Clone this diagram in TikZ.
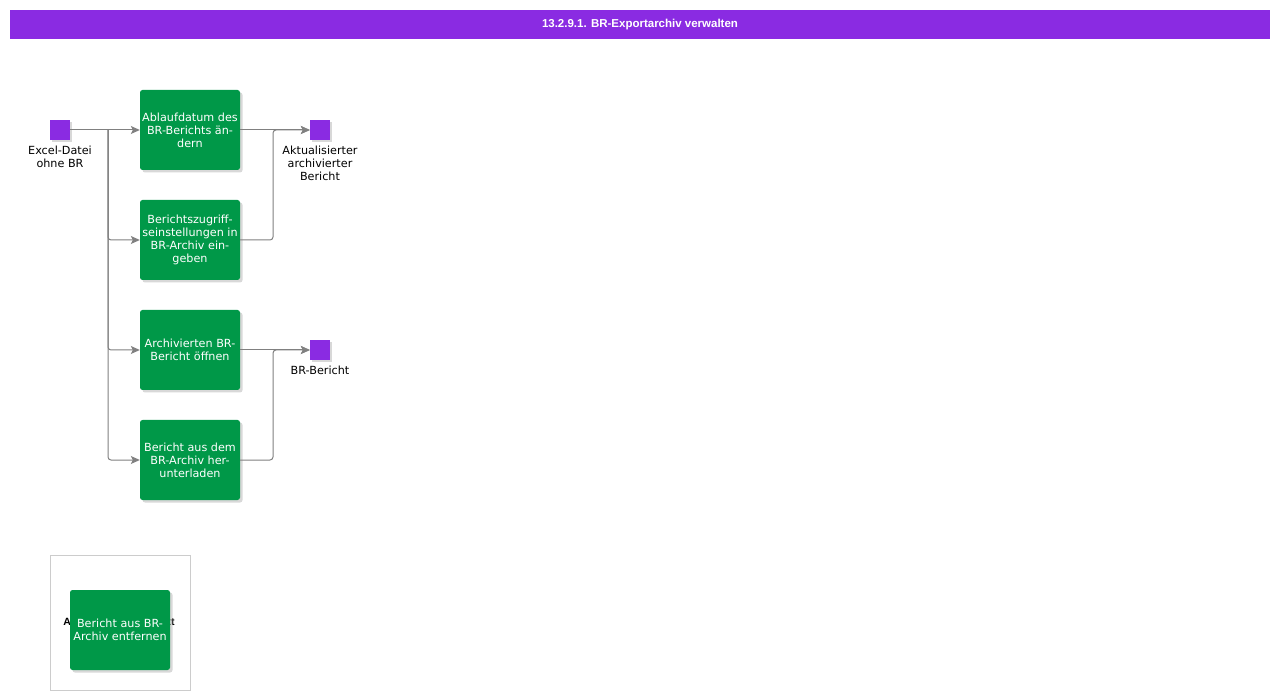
\documentclass[tikz,border=0pt]{standalone}
\usepackage{fontspec}
\setmainfont{DejaVu Sans}
\newfontfamily\headfont{Liberation Sans}
\usetikzlibrary{arrows.meta,shadows}
\definecolor{actgreen}{RGB}{0,152,72}
\definecolor{objviolet}{RGB}{138,43,226}
\newcommand{\act}[4]{\node[act] (#1) at (#2,#3) {#4};}
\newcommand{\obj}[3]{\node[obj] (#1) at (#2,#3) {};}
\tikzset{
	act/.style={fill=actgreen,rounded corners=2.5pt,minimum width=100pt,minimum height=80pt,
		inner sep=0pt,text=white,align=center,font=\fontsize{11.2}{13}\selectfont,
		drop shadow={shadow xshift=2.5pt,shadow yshift=-2.5pt,fill=black!30}},
	obj/.style={fill=objviolet,minimum size=20pt,inner sep=0pt,
		drop shadow={shadow xshift=2pt,shadow yshift=-2pt,fill=black!30}},
	lbl/.style={anchor=north,align=center,inner sep=0pt,font=\fontsize{11.2}{13}\selectfont},
	flow/.style={draw=gray,line width=1pt,rounded corners=3pt,-{Stealth[length=9pt,width=8pt,inset=2pt]}}
}
\begin{document}
\begin{tikzpicture}[x=1pt,y=-1pt]
	\useasboundingbox (0,0) rectangle (1280,700);
	% Title bar
	\fill[objviolet] (10,10) rectangle (1270,39);
	\node[text=white,font=\headfont\bfseries\fontsize{11.5}{13}\selectfont] (title) at (640,25) {13.2.9.1. BR-Exportarchiv verwalten};
	
	% Objects
	\obj{ex}{60}{130}
	\obj{upd}{320}{130}
	\obj{rep}{320}{350}
	\node[lbl] (exl) at (60,146) {Excel-Datei\\ohne BR};
	\node[lbl] (updl) at (320,146) {Aktualisierter\\archivierter\\Bericht};
	\node[lbl] (repl) at (320,366) {BR-Bericht};
	
	% Activities
	\act{date}{190}{130}{Ablaufdatum des\\BR-Berichts än-\\dern}
	\act{acc}{190}{240}{Berichtszugriff-\\seinstellungen in\\BR-Archiv ein-\\geben}
	\act{open}{190}{350}{Archivierten BR-\\Bericht öffnen}
	\act{load}{190}{460}{Bericht aus dem\\BR-Archiv her-\\unterladen}
	
	% Connectors
	\coordinate (split) at (108,130);
	\coordinate (join1) at (273,130);
	\coordinate (join2) at (273,350);
	\draw[flow] (ex) -- (date);
	\draw[flow] (split) |- (acc.west);
	\draw[flow] (split) |- (open.west);
	\draw[flow] (split) |- (load.west);
	\draw[flow] (date) -- (upd);
	\draw[flow] (acc.east) -| (join1) -- (upd.west);
	\draw[flow] (open) -- (rep);
	\draw[flow] (load.east) -| (join2) -- (rep.west);
	
	% Frame with single activity
	\draw[black!20,line width=1pt] (50.5,555.5) rectangle (190.5,690.5);
	\node[font=\headfont\bfseries\fontsize{10.5}{13}\selectfont] (ctx) at (119,622) {Aktivität ohne Kontext};
	\act{rem}{120}{630}{Bericht aus BR-\\Archiv entfernen}
\end{tikzpicture}
\end{document}
